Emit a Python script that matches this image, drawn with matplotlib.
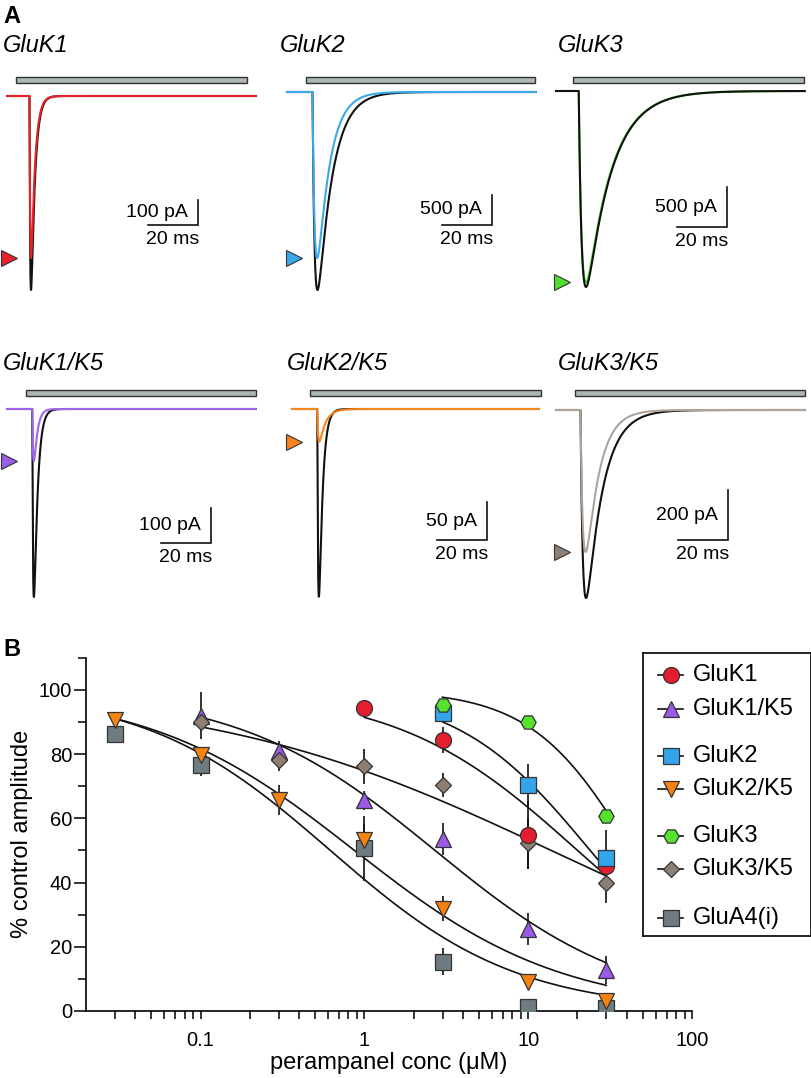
"""Perampanel block of kainate receptor currents: example traces (A) and dose-response (B)."""

import matplotlib
matplotlib.use("Agg")
import matplotlib.pyplot as plt
import numpy as np
from matplotlib.patches import Rectangle
from matplotlib.ticker import FixedLocator, NullFormatter
from matplotlib.transforms import blended_transform_factory

plt.rcParams["font.family"] = ["Liberation Sans", "DejaVu Sans"]

W, H = 812, 1078

# ---------------- panel A data: example currents ----------------
trace_names = ["GluK1", "GluK2", "GluK3", "GluK1/K5", "GluK2/K5", "GluK3/K5"]
trace_colors = ["#e8202a", "#3aa9ea", "#4fe02c", "#a064ea", "#f7851e", "#b0a49a"]
arrow_colors = ["#e8202a", "#3aa9ea", "#4fe02c", "#9b5ce6", "#f7851e", "#8e7f75"]
peak_ctrl = [776, 3300, 2450, 537, 247, 752]      # pA, black control trace
peak_drug = [648, 2767, 2390, 149, 43, 568]       # pA, coloured perampanel trace
tau_rise = [0.3, 0.9, 1.2, 0.35, 0.35, 1.0]       # ms
tau_ctrl = [1.5, 5.8, 10.0, 1.4, 1.4, 6.5]        # ms
tau_drug = [1.5, 4.9, 10.0, 1.3, 2.5, 5.3]        # ms
onset = [9.0, 10.2, 9.1, 10.1, 10.1, 9.8]         # ms
app_start = [3.6, 7.6, 6.8, 7.6, 7.2, 7.6]        # glutamate application, ms
app_end = [96.0, 99.2, 99.2, 99.6, 99.5, 99.6]
scale_pa = [100, 500, 500, 100, 50, 200]
scale_ms = 20
trace_len = 99.5

# ---------------- panel B data: % control amplitude ----------------
k1_x = [1, 3, 10, 30]
k1_y = [94.3, 84.3, 54.8, 45.0]
k1_err = [0.0, 4.0, 10.5, 5.0]

k1k5_x = [0.1, 0.3, 1, 3, 10, 30]
k1k5_y = [92.0, 81.0, 65.6, 53.6, 25.6, 12.8]
k1k5_err = [7.4, 3.0, 3.0, 5.0, 5.0, 4.4]

k2_x = [3, 10, 30]
k2_y = [92.8, 70.4, 47.5]
k2_err = [2.0, 6.6, 9.0]

k2k5_x = [0.03, 0.1, 0.3, 1, 3, 10, 30]
k2k5_y = [90.7, 79.8, 65.6, 53.2, 31.9, 8.9, 3.1]
k2k5_err = [1.0, 2.0, 4.7, 5.0, 4.0, 1.0, 1.0]

k3_x = [3, 10, 30]
k3_y = [95.3, 90.0, 60.7]
k3_err = [1.0, 1.0, 2.0]

k3k5_x = [0.1, 0.3, 1, 3, 10, 30]
k3k5_y = [90.1, 78.2, 76.2, 70.3, 52.2, 40.0]
k3k5_err = [3.0, 3.5, 5.5, 3.7, 8.0, 6.5]

a4_x = [0.03, 0.1, 1, 3, 10, 30]
a4_y = [86.3, 76.6, 50.6, 15.4, 1.3, 1.0]
a4_err = [1.0, 3.3, 10.0, 4.3, 0.5, 0.5]

# Hill fits (IC50 in uM, slope), top fixed at 100 %
k1_fit = (20.0, 0.79)
k1k5_fit = (2.7, 0.72)
k2_fit = (23.9, 1.06)
k2k5_fit = (0.87, 0.69)
k3_fit = (42.8, 1.41)
k3k5_fit = (13.8, 0.414)
a4_fit = (0.62, 0.765)

EDGE = "#333333"


def px_axes(fig, x0, y0, x1, y1):
    return fig.add_axes([x0 / W, 1 - y1 / H, (x1 - x0) / W, (y1 - y0) / H])


def epsc(t, t0, tr, td, amp):
    s = np.clip(t - t0, 0, None)
    w = np.exp(-s / td) - np.exp(-s / tr)
    tp = tr * td / (td - tr) * np.log(td / tr)
    norm = np.exp(-tp / td) - np.exp(-tp / tr)
    return -amp * w / norm


def hill(x, ic50, n):
    return 100.0 / (1.0 + (x / ic50) ** n)


fig = plt.figure(figsize=(W / 100, H / 100), dpi=100)

# ---------------- panel A ----------------
MS_PX = 2.5  # pixels per ms
col_left = [0, 270, 540]
row_top = [65, 380]
row_bottom = [300, 612]
bar_px = [(77, 83), (389.5, 395.5)]
trace_start_px = [7, 287, 556, 7, 292, 556]
baseline_px = [96, 92, 91, 409, 409, 410]
scale_bar_px = [25, 30, 40, 35, 38, 50]
corner_px = [(198, 225), (492, 225), (727, 227), (211, 543), (487, 540), (728, 540)]
arrow_px = [9.5, 24, 22, 9.5, 24, 22]
title_px = [(3, 45), (280, 45), (558, 45), (3, 363), (287, 363), (558, 363)]

t = np.linspace(0, trace_len, 3000)
for i in range(6):
    row, col = divmod(i, 3)
    L, T, B = col_left[col], row_top[row], row_bottom[row]
    S, Y0 = trace_start_px[i], baseline_px[i]
    k = scale_pa[i] / scale_bar_px[i]
    ax = px_axes(fig, L, T, L + 270, B)
    ax.set_xlim((L - S) / MS_PX, (L + 270 - S) / MS_PX)
    ax.set_ylim(-(B - Y0) * k, (Y0 - T) * k)
    ax.axis("off")

    ctrl = epsc(t, onset[i], tau_rise[i], tau_ctrl[i], peak_ctrl[i])
    drug = epsc(t, onset[i], tau_rise[i], tau_drug[i], peak_drug[i])
    ax.plot(t, ctrl, color="#111111", lw=1.5, zorder=3 if i == 2 else 2)
    ax.plot(t, drug, color=trace_colors[i], lw=1.5, zorder=2.5)

    # glutamate application bar
    yb0, yb1 = bar_px[row]
    tr_x = blended_transform_factory(ax.transData, ax.transAxes)
    ax.add_patch(Rectangle((app_start[i], (B - yb1) / (B - T)), app_end[i] - app_start[i],
                           (yb1 - yb0) / (B - T), transform=tr_x, facecolor="#a9b7b7",
                           edgecolor=EDGE, lw=1.0, clip_on=False))

    # arrowhead at the perampanel peak
    tr_y = blended_transform_factory(ax.transAxes, ax.transData)
    ax.plot([arrow_px[i] / 270], [-peak_drug[i]], marker=">", ms=11, color=arrow_colors[i],
            mec=EDGE, mew=0.8, transform=tr_y, clip_on=False)

    # scale bar
    cx = (corner_px[i][0] - S) / MS_PX
    cy = -(corner_px[i][1] - Y0) * k
    ax.plot([cx - scale_ms, cx, cx], [cy, cy, cy + scale_pa[i]], color="#111111", lw=1.2,
            solid_joinstyle="miter")
    ax.annotate(f"{scale_pa[i]} pA", (cx, cy + scale_pa[i] / 2), xytext=(-7.5, 0),
                textcoords="offset points", ha="right", va="center", fontsize=14)
    ax.annotate(f"{scale_ms} ms", (cx - scale_ms / 2, cy), xytext=(0, -4.5),
                textcoords="offset points", ha="center", va="top", fontsize=14)

    fig.text(title_px[i][0] / W, 1 - title_px[i][1] / H, trace_names[i], style="italic",
             fontsize=17, va="center", ha="left")

fig.text(3 / W, 1 - 16.5 / H, "A", fontweight="bold", fontsize=17, va="center")
fig.text(3 / W, 1 - 649 / H, "B", fontweight="bold", fontsize=17, va="center")

# ---------------- panel B ----------------
axB = px_axes(fig, 86, 657.7, 692, 1011)
axB.set_xscale("log")
axB.set_xlim(0.02, 100)
axB.set_ylim(0, 110)

series = [
    ("GluA4(i)", a4_x, a4_y, a4_err, a4_fit, "s", 11.5, "#6e7c81"),
    ("GluK1/K5", k1k5_x, k1k5_y, k1k5_err, k1k5_fit, "^", 11.5, "#9b59e8"),
    ("GluK3/K5", k3k5_x, k3k5_y, k3k5_err, k3k5_fit, "D", 8.0, "#8e7f75"),
    ("GluK1", k1_x, k1_y, k1_err, k1_fit, "o", 11.5, "#e41e2e"),
    ("GluK2", k2_x, k2_y, k2_err, k2_fit, "s", 11.5, "#34a5ea"),
    ("GluK2/K5", k2k5_x, k2k5_y, k2k5_err, k2k5_fit, "v", 11.5, "#f6820f"),
    ("GluK3", k3_x, k3_y, k3_err, k3_fit, "H", 11.0, "#55e22e"),
]
styles = {}
for j, (name, x, y, err, fit, mk, ms, c) in enumerate(series):
    xs = np.logspace(np.log10(min(x)), np.log10(max(x)), 300)
    axB.plot(xs, hill(xs, *fit), color="#111111", lw=1.2, zorder=2)
    axB.errorbar(x, y, yerr=err, fmt="none", ecolor="#111111", elinewidth=1.2, capsize=0,
                 zorder=3)
    axB.plot(x, y, linestyle="none", marker=mk, ms=ms, mfc=c, mec=EDGE, mew=0.9, zorder=4 + j)
    styles[name] = (mk, ms, c)

axB.spines["top"].set_visible(False)
axB.spines["right"].set_visible(False)
axB.spines["left"].set_linewidth(1.2)
axB.spines["bottom"].set_linewidth(1.2)

axB.set_xticks([0.1, 1, 10, 100], ["0.1", "1", "10", "100"])
minor_x = [m * 10.0 ** e for e in range(-2, 2) for m in range(2, 10)]
axB.xaxis.set_minor_locator(FixedLocator([v for v in minor_x if 0.02 < v < 100]))
axB.xaxis.set_minor_formatter(NullFormatter())
axB.set_yticks([0, 20, 40, 60, 80, 100])
axB.yaxis.set_minor_locator(FixedLocator([10, 30, 50, 70, 90, 110]))
axB.tick_params(axis="x", which="both", direction="out", length=5.5, width=1.1,
                labelsize=14.5, pad=9)
axB.tick_params(axis="y", which="major", direction="out", length=8.5, width=1.1,
                labelsize=14.5, pad=1.5)
axB.tick_params(axis="y", which="minor", direction="out", length=5.5, width=1.1)

axB.set_xlabel("perampanel conc (\u03bcM)", fontsize=17)
axB.set_ylabel("% control amplitude", fontsize=17)
axB.xaxis.label.set_va("center")
axB.yaxis.label.set_va("center")
axB.xaxis.set_label_coords(0.5, -0.148)
axB.yaxis.set_label_coords((22.5 - 86) / 606, 0.5)

# legend, grouped by subunit
legend_order = ["GluK1", "GluK1/K5", "GluK2", "GluK2/K5", "GluK3", "GluK3/K5", "GluA4(i)"]
legend_rows = [22.3, 56.0, 103.3, 136.0, 183.3, 216.0, 265.3]
axL = px_axes(fig, 643, 652.7, 811, 936)
axL.set_xlim(0, 168)
axL.set_ylim(283.3, 0)
axL.set_xticks([])
axL.set_yticks([])
for sp in axL.spines.values():
    sp.set_linewidth(1.2)
for name, ry in zip(legend_order, legend_rows):
    mk, ms, c = styles[name]
    axL.plot([15, 40], [ry, ry], color="#111111", lw=1.2)
    axL.plot([27.7], [ry], marker=mk, ms=ms, mfc=c, mec=EDGE, mew=0.9, linestyle="none")
    axL.text(49.7, ry, name, fontsize=17, va="center", ha="left")

fig.savefig("out.png", dpi=100)
plt.close(fig)
